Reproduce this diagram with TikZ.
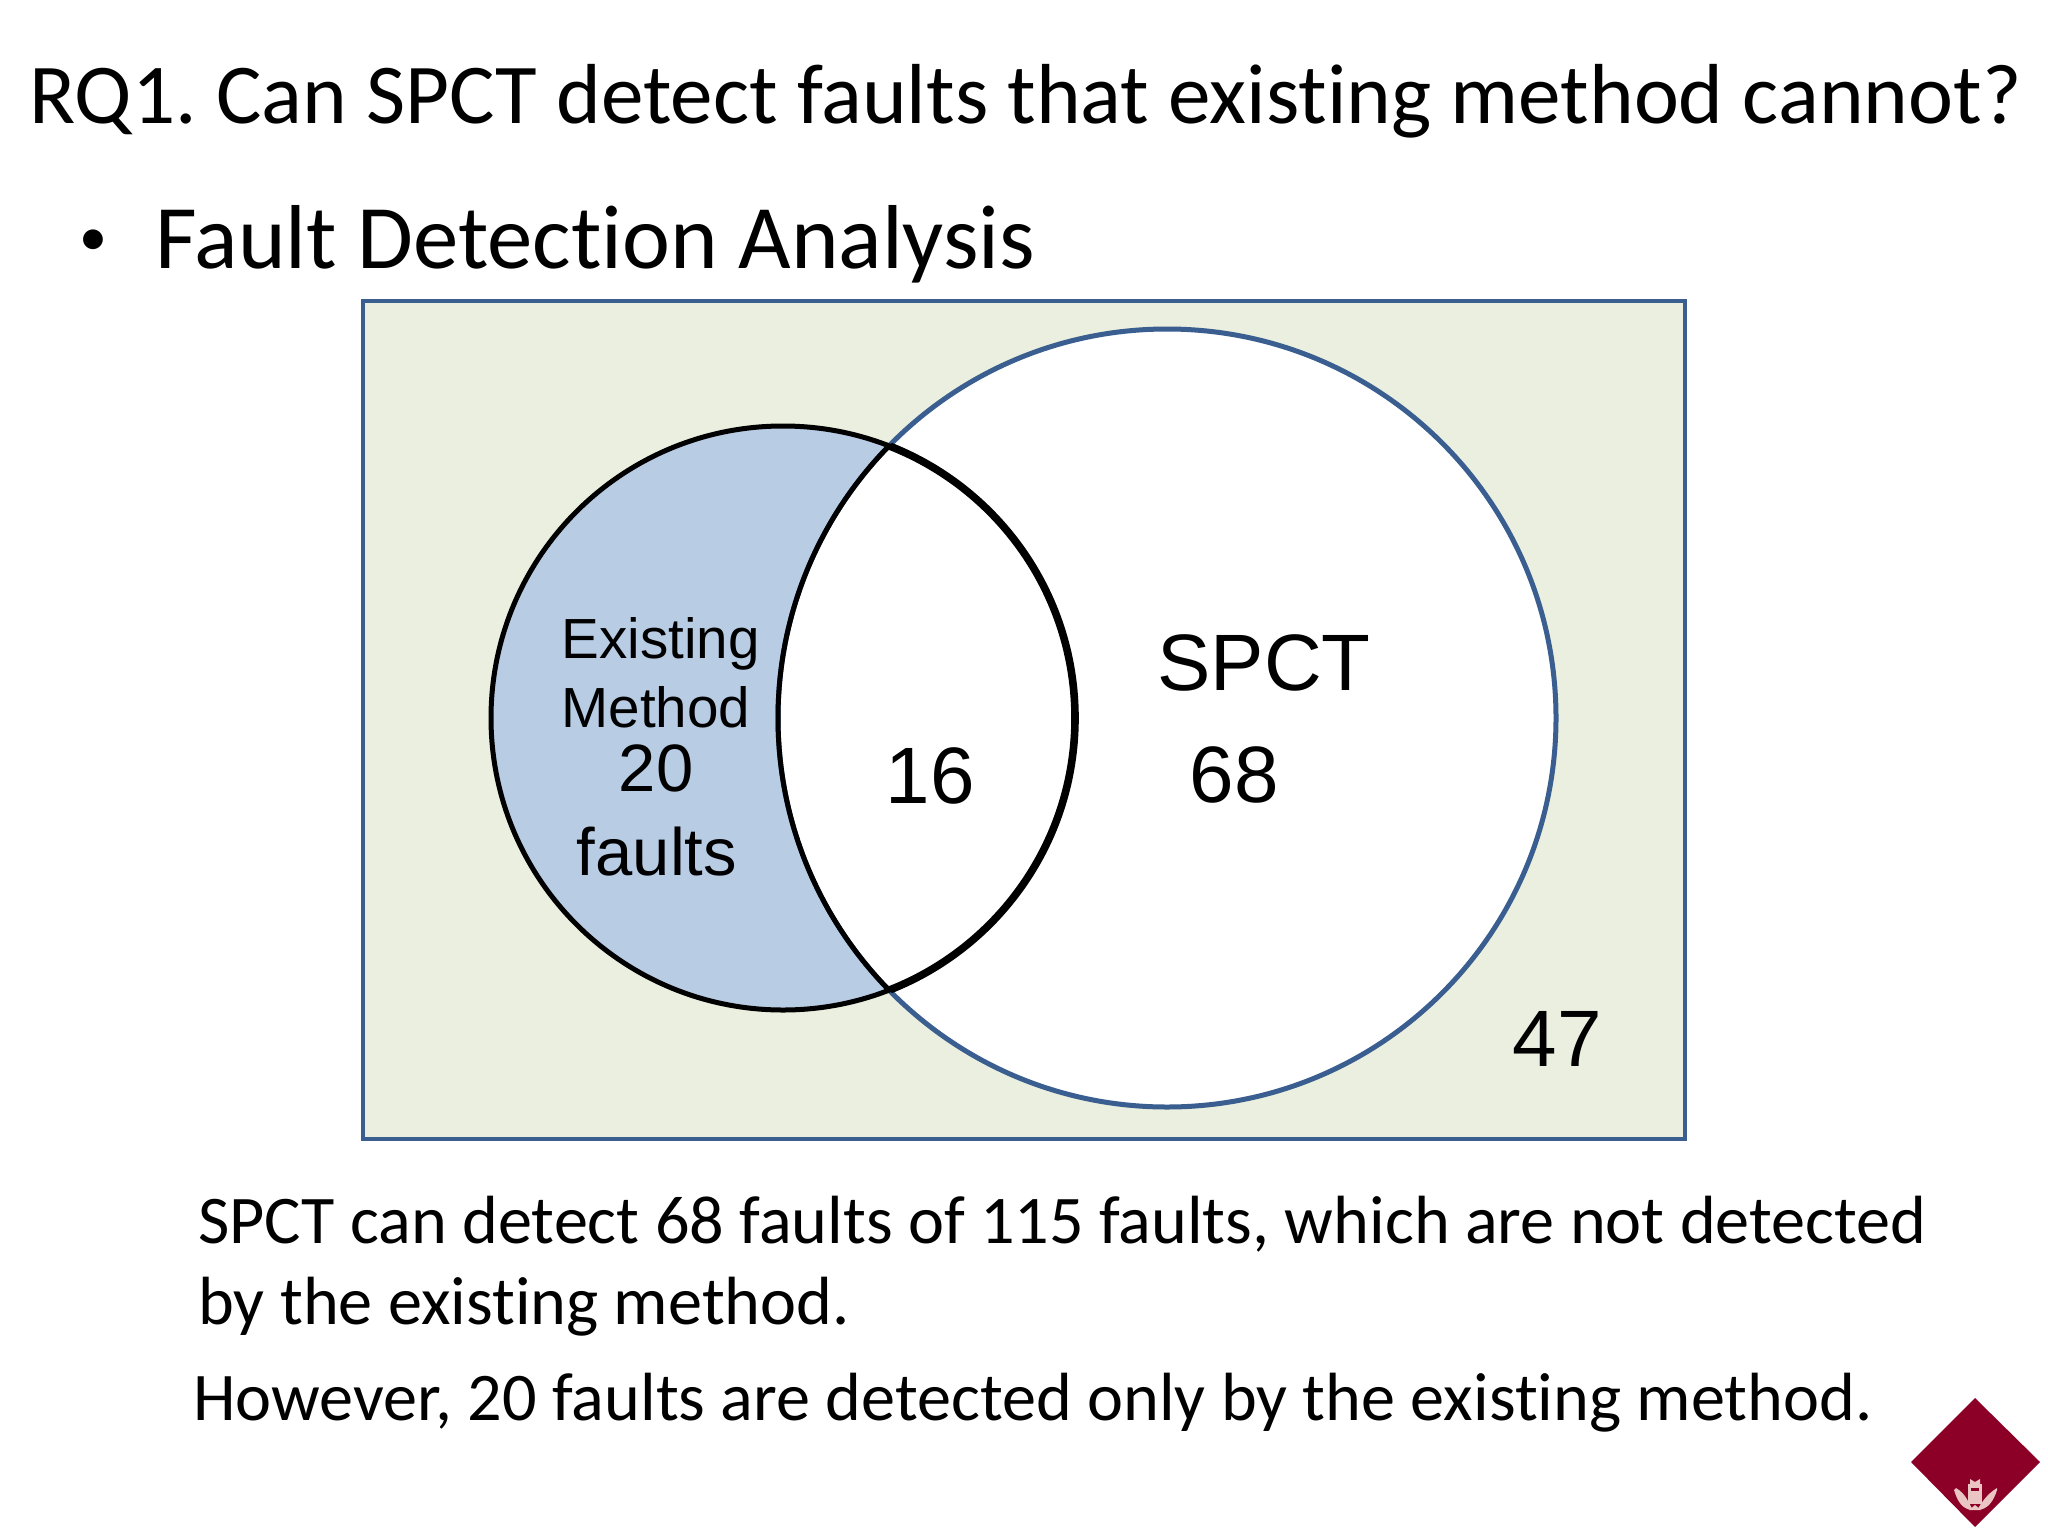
\documentclass[tikz,border=0pt]{standalone}
\usepackage{fontspec}
\setmainfont[Ligatures=CommonOff]{Carlito}
\newfontfamily\arialfont{Liberation Sans}
\definecolor{framecol}{HTML}{395E8F}
\definecolor{greenbg}{HTML}{EBEFDF}
\definecolor{bluefill}{HTML}{B8CCE4}
\definecolor{wine}{HTML}{8C0028}
\definecolor{crest}{HTML}{EBC4C4}
\tikzset{
  bodytext/.style={anchor=base west,inner sep=0pt,font=\fontsize{34.1}{38}\selectfont,text=black},
  titletext/.style={anchor=base west,inner sep=0pt,font=\fontsize{42.6}{48}\selectfont,text=black},
  headtext/.style={anchor=base west,inner sep=0pt,font=\fontsize{45.4}{50}\selectfont,text=black},
  bullettext/.style={anchor=base west,inner sep=0pt,font=\fontsize{28}{32}\selectfont,text=black},
  venntext/.style={anchor=base,inner sep=0pt,text=black},
  smallv/.style={venntext,font=\arialfont\fontsize{28.3}{32}\selectfont},
  midv/.style={venntext,font=\arialfont\fontsize{33.5}{38}\selectfont},
  bigv/.style={venntext,font=\arialfont\fontsize{40}{44}\selectfont},
}
\begin{document}
\begin{tikzpicture}[x=0.5pt,y=-0.5pt]
\useasboundingbox (0,0) rectangle (2048,1536);
\fill[white] (0,0) rectangle (2048,1536);
% frame
\draw[framecol,line width=2.4pt,fill=greenbg] (363,301) rectangle (1685,1139);
% left circle fill
\fill[bluefill] (783,718) circle (292);
% big circle
\draw[framecol,line width=2.5pt,fill=white] (1167,718) circle (389);
% black outlines
\draw[black,line width=2.5pt] (783,718) circle (292);
\begin{scope}
\clip (1167,718) circle (389);
\draw[black,line width=3.8pt] (783,718) circle (292);
\end{scope}
\begin{scope}
\clip (783,718) circle (292);
\draw[black,line width=2.5pt] (1167,718) circle (389);
\end{scope}
% texts
\node[titletext] (title) at (29,123) {RQ1.\kern-3pt{} Can SPCT detect faults that existing method cannot?};
\node[bullettext] (bullet) at (79,255) {•};
\node[headtext] (head) at (155,268) {Fault Detection Analysis};
\node[smallv,anchor=base west] (exist) at (561,658) {Existing};
\node[smallv,anchor=base west] (meth) at (561,727) {Method};
\node[midv] (twenty) at (656,791) {20};
\node[midv] (faults) at (657,875) {faults};
\node[bigv] (sixteen) at (930,803) {16};
\node[bigv] (spct) at (1264,690) {SPCT};
\node[bigv] (sixtyeight) at (1234,802) {68};
\node[bigv] (fortyseven) at (1557,1066) {47};
\node[bodytext] (l1) at (198,1243) {SPCT can detect 68 faults of 115 faults, which are not detected};
\node[bodytext] (l2) at (198,1324) {by the existing method.};
\node[bodytext] (l3) at (193,1420) {However, 20 faults are detected only by the existing method.};
% logo
\fill[wine] (1975,1398) -- (2040,1462) -- (1975,1527) -- (1911,1462) -- cycle;
\fill[crest] (1956,1488) .. controls (1966,1494) and (1968,1502) .. (1973,1510) .. controls (1962,1510) and (1957,1500) .. (1954,1490) -- cycle;
\fill[crest] (1997,1488) .. controls (1987,1494) and (1982,1502) .. (1977,1510) .. controls (1988,1510) and (1994,1500) .. (1997,1490) -- cycle;
\fill[crest] (1968,1484) rectangle (1982,1504);
\fill[wine] (1971,1488) rectangle (1979,1491);
\fill[crest] (1970,1479) -- (1975,1482) -- (1980,1479) -- (1980,1484) -- (1970,1484) -- cycle;
\fill[crest] (1969,1510) -- (1981,1510) -- (1975,1505) -- cycle;
\end{tikzpicture}
\end{document}
